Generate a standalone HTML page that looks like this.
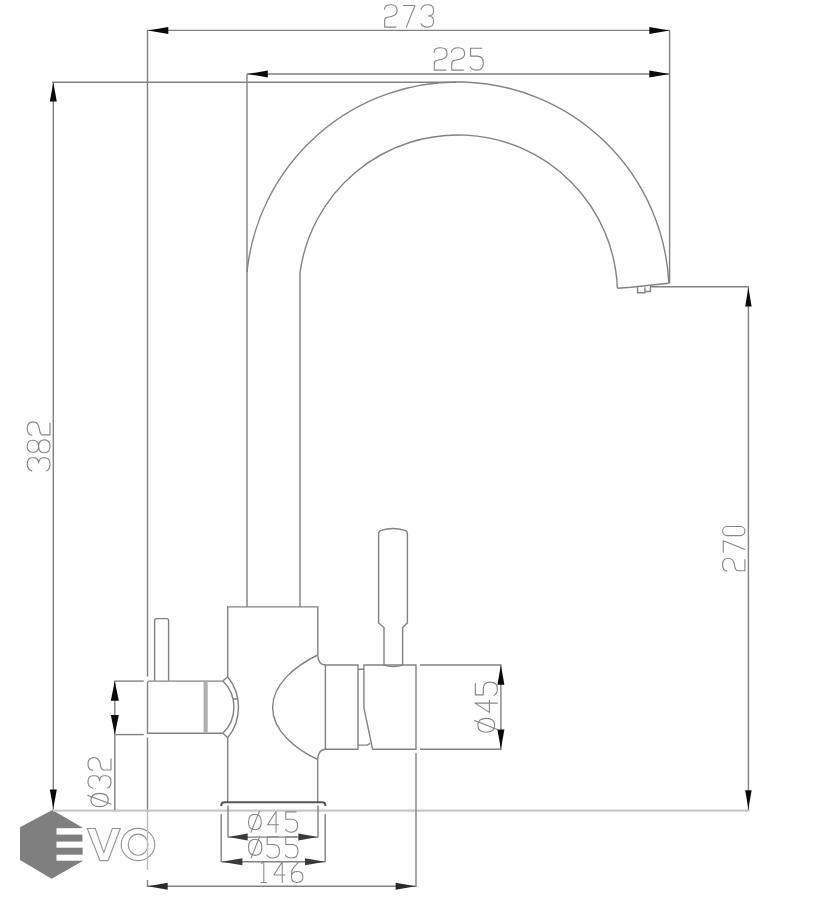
<!DOCTYPE html>
<html><head><meta charset="utf-8"><title>Faucet drawing</title>
<style>
html,body{margin:0;padding:0;background:#fff;}
body{width:823px;height:900px;overflow:hidden;font-family:"Liberation Sans",sans-serif;}
svg{display:block;}
</style></head>
<body>
<svg width="823" height="900" viewBox="0 0 823 900">
<rect width="823" height="900" fill="#fefefe"/>
<polygon points="52.3,810 82.3,827.5 82.8,861 51.6,878.7 20,860.1 20,827.3" fill="#7f7f7f"/>
<rect x="56.5" y="828.2" width="27" height="6.4" fill="#fff"/>
<rect x="56.5" y="841.6" width="27" height="6.1" fill="#fff"/>
<rect x="56.5" y="854.7" width="27" height="6.0" fill="#fff"/>
<path d="M87.3,828.5 L95.3,828.5 L103.8,852.6 L112.3,828.5 L120.3,828.5 L108.1,860.6 L100,860.6 Z" fill="#fff" stroke="#939393" stroke-width="1.1"/>
<ellipse cx="138" cy="844.5" rx="16.8" ry="16.1" fill="#fff" stroke="#939393" stroke-width="1.1"/>
<ellipse cx="138.1" cy="844.7" rx="9.9" ry="10.6" fill="#fff" stroke="#939393" stroke-width="1.1"/>
<g fill="none" stroke="#828282" stroke-width="1.4" stroke-linecap="butt" stroke-linejoin="miter">
<line x1="147.5" y1="30.4" x2="669.6" y2="30.4"/>
<line x1="247" y1="74" x2="669.6" y2="74"/>
<line x1="669.6" y1="30" x2="669.6" y2="283.5"/>
<line x1="147.5" y1="30" x2="147.5" y2="676.5"/>
<line x1="147.5" y1="737.6" x2="147.5" y2="812"/>
<line x1="147.5" y1="812" x2="147.5" y2="870" stroke="#bdbdbd"/>
<line x1="147.5" y1="880" x2="147.5" y2="887"/>
<line x1="247" y1="74" x2="247" y2="606.9"/>
<line x1="52" y1="82.2" x2="456" y2="82.2"/>
<line x1="53.3" y1="82.5" x2="53.3" y2="810"/>
<line x1="53" y1="810.7" x2="749.5" y2="810.7" stroke-width="2.2" stroke="#c8c8c8"/>
<line x1="650" y1="286.8" x2="748.8" y2="286.8"/>
<line x1="748.4" y1="287" x2="748.4" y2="810"/>
<line x1="114.8" y1="681.1" x2="114.8" y2="810"/>
<line x1="114.3" y1="681.1" x2="143.8" y2="681.1"/>
<line x1="114.3" y1="734.6" x2="143.8" y2="734.6"/>
<line x1="420" y1="665" x2="501.6" y2="665"/>
<line x1="420" y1="749.2" x2="501.6" y2="749.2"/>
<line x1="500.9" y1="665" x2="500.9" y2="749.2"/>
<line x1="228" y1="805.5" x2="228" y2="837.4"/>
<line x1="318" y1="805.5" x2="318" y2="837.4"/>
<line x1="228" y1="837.1" x2="318" y2="837.1"/>
<line x1="221.2" y1="814" x2="221.2" y2="862"/>
<line x1="325.2" y1="814" x2="325.2" y2="862"/>
<line x1="221.2" y1="861.7" x2="325.2" y2="861.7"/>
<line x1="147.5" y1="886.3" x2="415.8" y2="886.3"/>
<line x1="416" y1="753.3" x2="416" y2="887"/>
<path d="M300,607 L300,272.68 A159.5,159.5 0 0 1 617.38,288.2"/>
<path d="M247,272.05 A211.6,211.6 0 0 1 668.85,283.3"/>
<path d="M617.38,288.2 L631,287.3 L668.85,283.3"/>
<path d="M637.6,287.3 L637.6,292.7 L644.9,292.7 L644.9,287.3 M644.9,291.5 L650.4,291.5 L650.4,287"/>
<path d="M227.7,676.8 L227.7,606.9 L317.8,606.9 L317.8,655"/>
<path d="M317.7,655 Q318.2,664.8 325.4,665"/>
<path d="M317.7,655 C296,665.5 272.6,684 272.6,707.5 C272.6,731 296,749.5 317.7,759.6"/>
<path d="M317.7,759.6 Q318.2,749.3 325.4,749.2"/>
<path d="M317.7,759.6 L317.7,802"/>
<path d="M227.7,737.8 L227.7,802"/>
<path d="M325.4,665 L358,665 L358,749.2 L325.4,749.2 Z"/>
<path d="M358,669.3 L363.9,669.3 M358,745.1 L367.6,745.1 L370.2,743.1"/>
<path d="M363.9,665 L416,665 L416,749.2 L372.6,749.2 L363.9,707.8 Z"/>
<path d="M384,665.5 L384,627.5 L378.6,623 L378.6,534 Q378.6,531.2 381.2,530.4 Q393,526.6 404.8,530.4 Q407.4,531.2 407.4,534 L407.4,623 L402.6,627.5 L402.6,665.5"/>
<path d="M384,665.2 Q393,668 402.6,665.2"/>
<path d="M221.3,806 L221.3,805.3 Q221.3,802.2 224.4,802.2 L322.2,802.2 Q325.3,802.2 325.3,805.3 L325.3,806" stroke-width="2.0" stroke="#555"/>
<path d="M222.9,681.1 L149.3,681.1 Q147.5,681.1 147.5,682.9 L147.5,733.2 L222.9,733.2"/>
<path d="M222.9,681.1 A36.3,36.3 0 0 1 222.9,733.2"/>
<path d="M227.7,676.8 A48.5,48.5 0 0 1 227.7,737.8"/>
<path d="M222.9,681.1 L227.7,676.8 M222.9,733.2 L227.7,737.8 M232.8,699 L237.5,699"/>
<rect x="203.6" y="681.6" width="4.1" height="51.1" fill="#aeaeae" stroke="none"/>
<path d="M154.6,680.8 L154.6,620.5 Q154.6,618.6 156.5,618.6 L166.7,618.6 Q168.6,618.6 168.6,620.5 L168.6,680.8"/>
</g>
<g fill="none" stroke="#858585" stroke-width="1.15" stroke-linecap="round" stroke-linejoin="round">
<path transform="translate(384.40,4.80) scale(0.9405,0.9696)" d="M0,4.6 Q0.5,0 6.7,0 Q13.5,0 13.5,6 Q13.5,10.8 7.5,12 L3.5,12.8 Q0.3,13.5 0.3,16 L0.3,23 L12.3,23"/><path transform="translate(403.50,4.80) scale(0.9405,0.9696)" d="M0,0.7 L12.2,0.7 L3,23"/><path transform="translate(421.00,4.80) scale(0.9405,0.9696)" d="M0,4.6 Q1.6,0 6.6,0 Q13.3,0 13.3,5 L13.3,6.6 Q13.3,11.2 8,11.5 Q13.3,11.8 13.3,16.4 L13.3,17.7 Q13.3,23 6.6,23 Q1.5,23 0,19.5"/>
<path transform="translate(434.00,47.80) scale(0.9696,0.9696)" d="M0,4.6 Q0.5,0 6.7,0 Q13.5,0 13.5,6 Q13.5,10.8 7.5,12 L3.5,12.8 Q0.3,13.5 0.3,16 L0.3,23 L12.3,23"/><path transform="translate(451.50,47.80) scale(0.9696,0.9696)" d="M0,4.6 Q0.5,0 6.7,0 Q13.5,0 13.5,6 Q13.5,10.8 7.5,12 L3.5,12.8 Q0.3,13.5 0.3,16 L0.3,23 L12.3,23"/><path transform="translate(470.10,47.80) scale(0.9696,0.9696)" d="M12,0.4 L0.5,0.4 L0.5,8.6 L7,8.6 Q13.6,8.6 13.6,15.6 Q13.6,23 6.6,23 Q2,23 0.2,19.8"/>
<g transform="translate(27.2,471.4) rotate(-90)"><path transform="translate(0.50,0.00) scale(0.9913,0.9913)" d="M0,4.6 Q1.6,0 6.6,0 Q13.3,0 13.3,5 L13.3,6.6 Q13.3,11.2 8,11.5 Q13.3,11.8 13.3,16.4 L13.3,17.7 Q13.3,23 6.6,23 Q1.5,23 0,19.5"/><path transform="translate(18.70,0.00) scale(0.9913,0.9913)" d="M6.5,0 Q0.4,0 0.4,5.75 Q0.4,11.5 6.5,11.5 Q12.6,11.5 12.6,5.75 Q12.6,0 6.5,0 Z M6.5,11.5 Q0,11.5 0,17.25 Q0,23 6.5,23 Q13,23 13,17.25 Q13,11.5 6.5,11.5 Z"/><path transform="translate(36.20,0.00) scale(0.9913,0.9913)" d="M0,4.6 Q0.5,0 6.7,0 Q13.5,0 13.5,6 Q13.5,10.8 7.5,12 L3.5,12.8 Q0.3,13.5 0.3,16 L0.3,23 L12.3,23"/></g>
<g transform="translate(722.6,571.5) rotate(-90)"><path transform="translate(0.50,0.00) scale(0.9405,0.9696)" d="M0,4.6 Q0.5,0 6.7,0 Q13.5,0 13.5,6 Q13.5,10.8 7.5,12 L3.5,12.8 Q0.3,13.5 0.3,16 L0.3,23 L12.3,23"/><path transform="translate(19.20,0.00) scale(0.9405,0.9696)" d="M0,0.7 L12.2,0.7 L3,23"/><path transform="translate(35.90,0.00) scale(0.9405,0.9696)" d="M0,4.8 A4.8,4.8 0 0 1 9.6,4.8 L9.6,18.2 A4.8,4.8 0 0 1 0,18.2 Z"/></g>
<g transform="translate(88.0,807.1) rotate(-90)"><path transform="translate(0.50,0.00) scale(0.9300,1.0000)" d="M7.1,3 Q0,3 0,11.6 Q0,20.2 7.1,20.2 Q14.2,20.2 14.2,11.6 Q14.2,3 7.1,3 Z M2.8,23 L12,-0.2"/><path transform="translate(19.00,0.00) scale(0.9300,1.0000)" d="M0,4.6 Q1.6,0 6.6,0 Q13.3,0 13.3,5 L13.3,6.6 Q13.3,11.2 8,11.5 Q13.3,11.8 13.3,16.4 L13.3,17.7 Q13.3,23 6.6,23 Q1.5,23 0,19.5"/><path transform="translate(36.90,0.00) scale(0.9300,1.0000)" d="M0,4.6 Q0.5,0 6.7,0 Q13.5,0 13.5,6 Q13.5,10.8 7.5,12 L3.5,12.8 Q0.3,13.5 0.3,16 L0.3,23 L12.3,23"/></g>
<g transform="translate(474.9,732.8) rotate(-90)"><path transform="translate(0.50,0.00) scale(0.9783,0.9783)" d="M7.1,3 Q0,3 0,11.6 Q0,20.2 7.1,20.2 Q14.2,20.2 14.2,11.6 Q14.2,3 7.1,3 Z M2.8,23 L12,-0.2"/><path transform="translate(20.40,0.00) scale(0.9783,0.9783)" d="M9.5,23 L9.5,0 L0,14.8 L12.2,14.8"/><path transform="translate(37.40,0.00) scale(0.9783,0.9783)" d="M12,0.4 L0.5,0.4 L0.5,8.6 L7,8.6 Q13.6,8.6 13.6,15.6 Q13.6,23 6.6,23 Q2,23 0.2,19.8"/></g>
<path transform="translate(248.50,811.50) scale(0.9000,0.9000)" d="M7.1,3 Q0,3 0,11.6 Q0,20.2 7.1,20.2 Q14.2,20.2 14.2,11.6 Q14.2,3 7.1,3 Z M2.8,23 L12,-0.2"/><path transform="translate(267.50,811.50) scale(0.9000,0.9000)" d="M9.5,23 L9.5,0 L0,14.8 L12.2,14.8"/><path transform="translate(285.30,811.50) scale(0.9000,0.9000)" d="M12,0.4 L0.5,0.4 L0.5,8.6 L7,8.6 Q13.6,8.6 13.6,15.6 Q13.6,23 6.6,23 Q2,23 0.2,19.8"/>
<path transform="translate(248.50,836.40) scale(0.9391,0.9391)" d="M7.1,3 Q0,3 0,11.6 Q0,20.2 7.1,20.2 Q14.2,20.2 14.2,11.6 Q14.2,3 7.1,3 Z M2.8,23 L12,-0.2"/><path transform="translate(266.70,836.40) scale(0.9391,0.9391)" d="M12,0.4 L0.5,0.4 L0.5,8.6 L7,8.6 Q13.6,8.6 13.6,15.6 Q13.6,23 6.6,23 Q2,23 0.2,19.8"/><path transform="translate(285.30,836.40) scale(0.9391,0.9391)" d="M12,0.4 L0.5,0.4 L0.5,8.6 L7,8.6 Q13.6,8.6 13.6,15.6 Q13.6,23 6.6,23 Q2,23 0.2,19.8"/>
<path transform="translate(258.90,861.90) scale(0.8913,0.8913)" d="M5.5,0 L2.6,2 M5.5,0 L5.5,23 M2.2,23 L8.4,23"/><path transform="translate(273.80,861.90) scale(0.8913,0.8913)" d="M9.5,23 L9.5,0 L0,14.8 L12.2,14.8"/><path transform="translate(291.50,861.90) scale(0.8913,0.8913)" d="M8,0 L2.3,6.4 Q0,9 0,12.6 L0,17 Q0,23 6.4,23 Q12.8,23 12.8,16.9 Q12.8,10.8 6.4,10.8 Q0,10.8 0,16.6"/>
</g>
<polygon points="148.00,30.40 168.30,26.90 168.30,33.90" fill="#0a0a0a"/>
<polygon points="669.60,30.40 649.30,26.90 649.30,33.90" fill="#0a0a0a"/>
<polygon points="247.50,74.00 267.80,70.50 267.80,77.50" fill="#0a0a0a"/>
<polygon points="669.60,74.00 649.30,70.50 649.30,77.50" fill="#0a0a0a"/>
<polygon points="53.30,82.60 49.80,101.60 56.80,101.60" fill="#0a0a0a"/>
<polygon points="53.30,808.50 49.80,789.50 56.80,789.50" fill="#0a0a0a"/>
<polygon points="748.40,287.50 745.20,306.50 751.60,306.50" fill="#0a0a0a"/>
<polygon points="748.40,809.00 745.20,790.20 751.60,790.20" fill="#0a0a0a"/>
<polygon points="114.80,681.10 110.80,700.70 118.80,700.70" fill="#0a0a0a"/>
<polygon points="114.80,734.60 110.80,715.00 118.80,715.00" fill="#0a0a0a"/>
<polygon points="500.90,665.30 497.40,684.80 504.40,684.80" fill="#0a0a0a"/>
<polygon points="500.90,749.00 497.40,729.50 504.40,729.50" fill="#0a0a0a"/>
<polygon points="228.20,837.10 247.70,833.60 247.70,840.60" fill="#3a3a3a"/>
<polygon points="317.80,837.10 298.30,833.60 298.30,840.60" fill="#3a3a3a"/>
<polygon points="221.40,861.70 242.40,858.20 242.40,865.20" fill="#3a3a3a"/>
<polygon points="325.00,861.70 305.00,858.20 305.00,865.20" fill="#3a3a3a"/>
<polygon points="147.70,886.30 167.70,882.80 167.70,889.80" fill="#2a2a2a"/>
<polygon points="415.60,886.30 395.60,882.80 395.60,889.80" fill="#2a2a2a"/>
</svg>
</body></html>
